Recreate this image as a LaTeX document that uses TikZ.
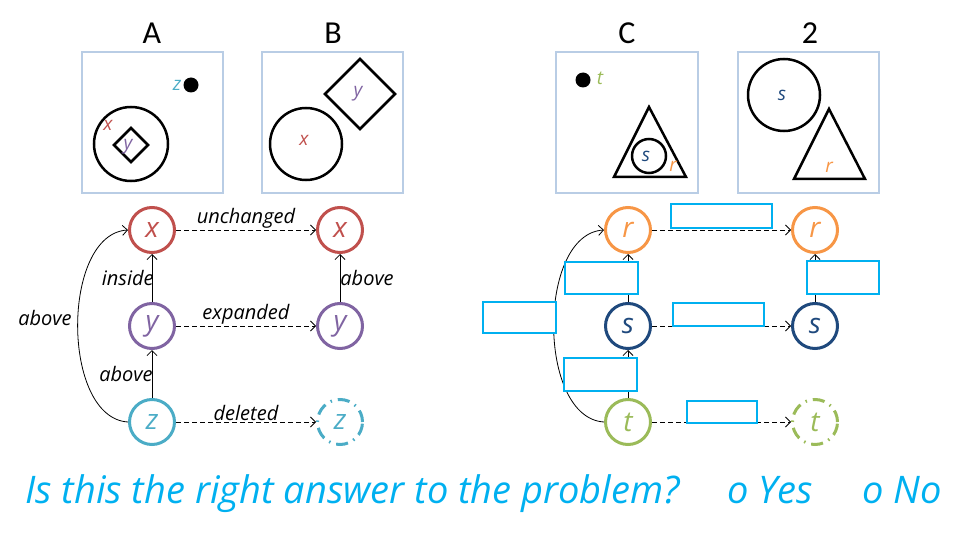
\documentclass[tikz,border=0pt]{standalone}
\usepackage{fontspec}
\setmainfont{Carlito}
\newfontfamily\hand{Open Sans}
\usetikzlibrary{arrows.meta}
\definecolor{xred}{HTML}{C0504D}
\definecolor{ypurple}{HTML}{8064A2}
\definecolor{zcyan}{HTML}{4BACC6}
\definecolor{rorange}{HTML}{F79646}
\definecolor{sblue}{HTML}{1F497D}
\definecolor{tgreen}{HTML}{9BBB59}
\definecolor{frameblue}{HTML}{B9CDE5}
\definecolor{answer}{HTML}{00B0F0}
\begin{document}
\begin{tikzpicture}[x=1pt,y=-1pt,
  panel/.style={draw=frameblue, line width=2.5pt},
  outline/.style={draw=black, line width=2.5pt},
  title/.style={font=\fontsize{32}{32}\selectfont},
  letter/.style={text=#1, inner sep=0pt, font=\hand\itshape\fontsize{19}{19}\selectfont},
  vert/.style={circle, draw=#1, text=#1, line width=3pt, minimum size=45pt, inner sep=0pt,
    font=\hand\itshape\fontsize{28}{28}\selectfont},
  gone/.style={vert=#1, dash pattern=on 12pt off 6pt on 1.5pt off 6pt},
  rel/.style={-{Straight Barb[length=5pt,width=10pt]}, line width=0.8pt},
  change/.style={rel, dash pattern=on 5pt off 3pt},
  lbl/.style={font=\hand\itshape\fontsize{20}{20}\selectfont, inner sep=1pt},
  blank/.style={draw=answer, fill=white, line width=2pt, inner sep=0pt}
]
\useasboundingbox (0,0) rectangle (960,540);

% ---- panel A ----
\node[title] (tA) at (152,33) {A};
\draw[panel] (82,52) rectangle (223,193);
\draw[outline] (131,144) circle (37);
\draw[outline] (131,128) -- (148,145) -- (131,162) -- (114,145) -- cycle;
\node[letter=ypurple] (lAy) at (128,147) {y};
\node[letter=xred] (lAx) at (108,125) {x};
\fill (191,85) circle (7.5);
\node[letter=zcyan] (lAz) at (177,85) {z};

% ---- panel B ----
\node[title] (tB) at (333,33) {B};
\draw[panel] (262,52) rectangle (403,193);
\draw[outline] (306,144) circle (36);
\draw[outline] (360,59) -- (395,94) -- (360,129) -- (325,94) -- cycle;
\node[letter=ypurple] (lBy) at (358,94) {y};
\node[letter=xred] (lBx) at (304,140) {x};

% ---- panel C ----
\node[title] (tC) at (627,33) {C};
\draw[panel] (556,52) rectangle (698,193);
\fill (583,80) circle (7.5);
\node[letter=tgreen] (lCt) at (600,78) {t};
\draw[outline] (649,107) -- (686,177) -- (614,177) -- cycle;
\draw[outline] (649,156) circle (17);
\node[letter=sblue] (lCs) at (646,156) {s};
\node[letter=rorange] (lCr) at (673,166) {r};

% ---- panel 2 ----
\node[title] (t2) at (810,33) {2};
\draw[panel] (738,52) rectangle (879,193);
\draw[outline] (784,95) circle (36);
\draw[outline] (829,109) -- (865,179) -- (794,179) -- cycle;
\node[letter=sblue] (l2s) at (782,95) {s};
\node[letter=rorange] (l2r) at (829,167) {r};

% ---- left graph ----
\node[vert=xred] (x) at (152,230) {x};
\node[vert=ypurple] (y) at (152,326) {y};
\node[vert=zcyan] (z) at (152,422) {z};
\node[vert=xred] (x2) at (340,230) {x};
\node[vert=ypurple] (y2) at (340,326) {y};
\node[gone=zcyan] (z2) at (340,422) {z};

\draw[rel] (y) -- node[lbl, anchor=east, xshift=3pt] {inside} (x);
\draw[rel] (z) -- node[lbl, anchor=east, xshift=2pt] {above} (y);
\draw[rel] (z.west) .. controls (61,418) and (61,234) .. (x.west);
\node[lbl] (lab) at (45,318) {above};
\draw[rel] (y2) -- node[lbl, anchor=west, xshift=-1pt] {above} (x2);
\draw[change] (x) -- node[lbl, above] {unchanged} (x2);
\draw[change] (y) -- node[lbl, above] {expanded} (y2);
\draw[change] (z) -- node[lbl, above] {deleted} (z2);

% ---- right graph ----
\node[vert=rorange] (r) at (628,230) {r};
\node[vert=sblue] (s) at (628,326) {s};
\node[vert=tgreen] (t) at (628,422) {t};
\node[vert=rorange] (r2) at (815,230) {r};
\node[vert=sblue] (s2) at (815,326) {s};
\node[gone=tgreen] (t2) at (815,422) {t};

\draw[rel] (s) -- (r);
\draw[rel] (t) -- (s);
\draw[rel] (t.west) .. controls (537,418) and (537,234) .. (r.west);
\draw[rel] (s2) -- (r2);
\draw[change] (r) -- (r2);
\draw[change] (s) -- (s2);
\draw[change] (t) -- (t2);

\node[blank, minimum width=73pt, minimum height=32pt] (b1) at (601.5,278) {};
\node[blank, minimum width=73pt, minimum height=31pt] (b2) at (519.5,317.5) {};
\node[blank, minimum width=73pt, minimum height=33pt] (b3) at (600.5,374.5) {};
\node[blank, minimum width=101pt, minimum height=24pt] (b4) at (721.5,216) {};
\node[blank, minimum width=72pt, minimum height=33pt] (b5) at (843,277.5) {};
\node[blank, minimum width=91pt, minimum height=23pt] (b6) at (718.5,314.5) {};
\node[blank, minimum width=70pt, minimum height=22pt] (b7) at (722,412) {};

% ---- question ----
\begin{scope}[every node/.style={text=answer, inner sep=0pt, anchor=base west,
    font=\hand\itshape\fontsize{38}{38}\selectfont}]
\node (q) at (25,503) {Is this the right answer to the problem?};
\node (yes) at (727,503) {o Yes};
\node (no) at (862,503) {o No};
\end{scope}
\end{tikzpicture}
\end{document}
